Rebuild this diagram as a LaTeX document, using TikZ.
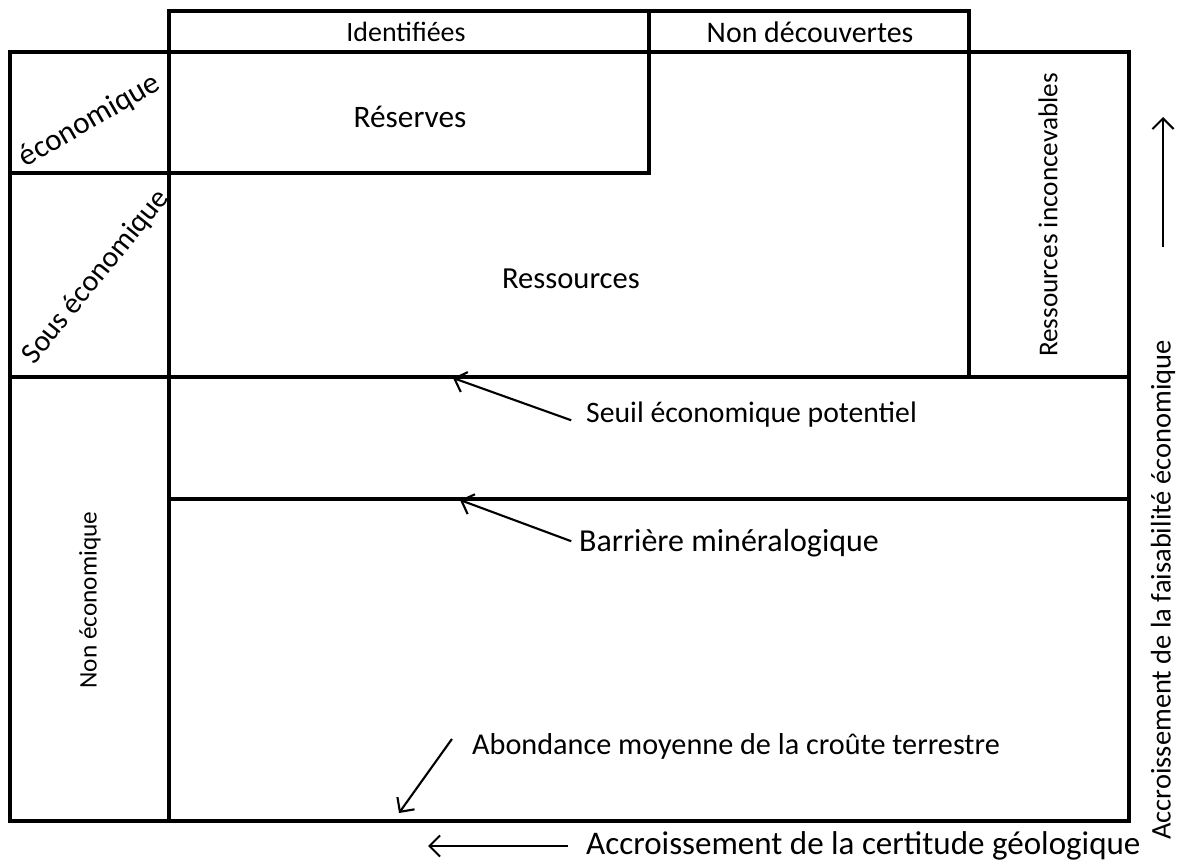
\documentclass[tikz,border=0pt]{standalone}
\usepackage{fontspec}
\setmainfont{Carlito}
\usetikzlibrary{arrows.meta,positioning}

\newcommand{\fsz}[1]{\fontsize{#1}{#1}\selectfont}

\begin{document}
\begin{tikzpicture}[x=0.02cm, y=-0.02cm, font=\fsz{15.9},
	>={Straight Barb[length=6pt,width=12pt]}]
	\tikzset{
		frame/.style={line width=2.2pt, line cap=rect},
		pointer/.style={->, line width=1.2pt},
	}
	\useasboundingbox (0,0) rectangle (1184,861);
	% grid
	\draw[frame] (10,52) rectangle (1129,821);
	\draw[frame, line width=1.8pt] (169,52) -- (169,11) -- (969,11) -- (969,52);
	\draw[frame] (649,11) -- (649,173);
	\draw[frame] (169,52) -- (169,821);
	\draw[frame] (10,173) -- (649,173);
	\draw[frame] (10,377) -- (1129,377);
	\draw[frame] (969,52) -- (969,377);
	\draw[frame] (169,499) -- (1129,499);
	% column and row headings
	\node (ident) at (406,32) {Identifiées};
	\node[font=\fsz{17}] (nondec) at (810,32) {Non découvertes};
	\node[rotate=30, font=\fsz{17.7}] (eco) at (90,121) {économique};
	\node[rotate=51, font=\fsz{17}] (souseco) at (96,277) {Sous économique};
	\node[rotate=90, font=\fsz{14.4}] (noneco) at (90,600) {Non économique};
	% boxes
	\node[font=\fsz{17.8}] (reserves) at (410,117) {Réserves};
	\node[font=\fsz{17.4}] (ressources) at (571,279) {Ressources};
	\node[rotate=90, font=\fsz{15.5}] (inconc) at (1048,215) {Ressources inconcevables};
	% labels with pointers
	\node[anchor=west, font=\fsz{16.9}] (seuil) at (580,415) {Seuil économique potentiel};
	\node[anchor=west, font=\fsz{18.2}] (barriere) at (573,543) {Barrière minéralogique};
	\node[anchor=west, font=\fsz{17.2}] (abond) at (466,746) {Abondance moyenne de la croûte terrestre};
	\coordinate (seuilpt) at (453,378);
	\coordinate (barrpt) at (460,500);
	\coordinate (abondpt) at (399,813);
	\draw[pointer] ([shift={(-5pt,-3pt)}]seuil.west) -- (seuilpt);
	\draw[pointer] ([shift={(-1pt,1pt)}]barriere.west) -- (barrpt);
	\draw[pointer] ([shift={(-8pt,4pt)}]abond.west) -- (abondpt);
	% axes
	\node[anchor=west, font=\fsz{18.8}] (certitude) at (580,846) {Accroissement de la certitude géologique};
	\coordinate (certpt) at (428,846);
	\draw[pointer] ([xshift=-7pt]certitude.west) -- (certpt);
	\node[rotate=90, font=\fsz{16.2}] (faisab) at (1163,590) {Accroissement de la faisabilité économique};
	\coordinate (faisbase) at (1163,247);
	\coordinate (faistip) at (1163,117);
	\draw[pointer] (faisbase) -- (faistip);
\end{tikzpicture}
\end{document}
